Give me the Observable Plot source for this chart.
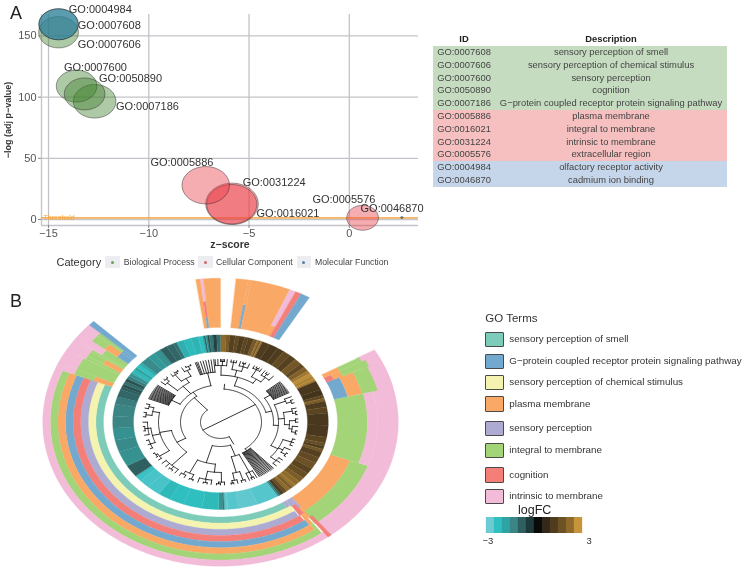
<!DOCTYPE html>
<html><head><meta charset="utf-8">
<script src="https://cdn.jsdelivr.net/npm/d3@7"></script>
<script src="https://cdn.jsdelivr.net/npm/@observablehq/plot@0.6"></script>
<style>
html,body{margin:0;background:#fff}
#root{position:relative;width:743px;height:571px;overflow:hidden;font-family:"Liberation Sans",Arial,sans-serif;color:#333;filter:blur(.45px)}
#root>*{position:absolute}
.t{white-space:nowrap;line-height:1}
table{border-collapse:collapse;table-layout:fixed;font-size:9.4px;color:#444}
td,th{padding:0;height:12.8px;line-height:12.8px;text-align:center;white-space:nowrap}
</style></head><body><div id="root"></div>
<script>
// ---------- Panel A data
const goIds   = ["GO:0007606","GO:0007608","GO:0004984","GO:0007600","GO:0050890","GO:0007186","GO:0005886","GO:0016021","GO:0031224","GO:0005576","GO:0046870"];
const zScores = [-14.5,-14.5,-14.5,-13.6,-13.2,-12.7,-7.16,-5.85,-5.86,0.66,2.62];
const logPs   = [153,159.5,159.5,109,102.6,96.6,28,12.8,12.5,1.4,1.6];
const counts  = [246,240,240,256,256,282,350,428,388,156,1];
const cats    = ["BP","BP","MF","BP","BP","BP","CC","CC","CC","CC","MF"];
const labelZ  = [-13.54,-13.54,-13.99,-14.23,-12.48,-11.64,-9.92,-4.63,-5.32,-1.84,0.56];
const labelP  = [142.7,158.9,171.6,124.4,115,92.3,46.3,4.7,30.2,16.4,8.8];
const thresholdP = 1.3;
const catNames = ["Biological Process","Cellular Component","Molecular Function"];
const catColors = {BP:"#3f7f2a",CC:"#e93b45",MF:"#2a7fb4"};
const catOpacity = {BP:.42,CC:.42,MF:.62};
// ---------- Table data
const tableIds = ["GO:0007608","GO:0007606","GO:0007600","GO:0050890","GO:0007186","GO:0005886","GO:0016021","GO:0031224","GO:0005576","GO:0004984","GO:0046870"];
const tableDesc = ["sensory perception of smell","sensory perception of chemical stimulus","sensory perception","cognition","G\u2212protein coupled receptor protein signaling pathway","plasma membrane","integral to membrane","intrinsic to membrane","extracellular region","olfactory receptor activity","cadmium ion binding"];
const tableCat = ["BP","BP","BP","BP","BP","CC","CC","CC","CC","MF","MF"];
const tableBg = {BP:"#c6dcc1",CC:"#f6c0c0",MF:"#c6d6ea"};
// ---------- Panel B data
const terms = ["sensory perception of smell","G\u2212protein coupled receptor protein signaling pathway","sensory perception of chemical stimulus","plasma membrane","sensory perception","integral to membrane","cognition","intrinsic to membrane"];
const termColors = ["#7dccb9","#74a9cf","#f4f4b0","#f9a965","#aeabd3","#a3d477","#f47e78","#f2bbd8"];
const [TE,BL,YE,OR,PU,GR,RE,PI] = [0,1,2,3,4,5,6,7];
const sectors = [
 [148,292,117,124.6,TE],[147,292,124.6,132.2,YE],[146,292,132.2,139.8,PU],[145.5,292,139.8,147.4,RE],
 [145,292,147.4,155,BL],[144.5,292,155,162.6,OR],[143.5,292,162.6,170.2,GR],[142,312.5,170.2,177.8,PI],
 [110,142.5,117,138,OR],[110,143,138,157,GR],[60,142.5,157,177.8,PI],
 [142.5,143.5,117,132,PU],[142.5,143.5,132,147,OR],[143.5,146,117,126,PU],[143.5,145.5,126,140,RE],[143.5,145,140,155,OR],[143.5,144.5,155,162.6,GR],
 [146,148,117,124.6,PU],[146,147,124.6,132,YE],[141.5,142.8,147,177.8,RE],
 [76,110,117,147,GR],[76,110,147,157,PI],
 [65,76,117,131,BL],[65,76,131,146,OR],[65,76,146,162,GR],[65,76,162,177.8,PI],
 [62,65,117,125,RE],[62,65,125,135,OR],[62,65,135,164,GR],[62,65,164,177.8,PI],
 [60,62,117,135,OR],[60,62,135,160,GR],[60,62,160,177.8,PI],
 [292,294.5,117,137,OR],[292,294.5,137,158,GR],[292,294.5,158,177.8,PI],
 [294.5,300,117,158,GR],[294.5,300,158,177.8,PI],
 [300,301.5,117,156,GR],[301.5,304,117,138,OR],[301.5,304,138,156,GR],[304,305,117,156,GR],[300,305,156,177.8,PI],
 [305,308,117,145,GR],[305,308,145,177.8,PI],
 [308,311,117,131,BL],[308,311,131,147,OR],[308,311,147,163,GR],[308,311,163,177.8,PI],
 [311,312.5,117,131,BL],[311,312.5,131,163,GR],[311,312.5,163,177.8,PI],
 [312.5,314.5,117,177.8,BL],
 [-8,-6.5,117,177.8,OR],[-6.5,-5.5,117,130,BL],[-6.5,-5.5,130,150,RE],[-6.5,-5.5,150,177.8,PI],[-5.5,0,117,177.8,OR],
 [5,9,117,177.8,OR],[9,10,117,147,BL],[9,10,147,177.8,OR],[10,23,117,177.8,OR],
 [23,25,117,130,OR],[23,25,130,177.8,PI],[25,27,117,177.8,RE],[27,30,117,177.8,BL]
];
const ringAngles = [0,3,5,8,10,13,15,18,20,21,22,23,27,32,36,40,44,48,51,54,56,58,60,62,68,72,74,76,80,84,92,100,104,106,108,110,114,118,122,126,130,133,136,138,140,142,144,146,147,148,160,170,176,178,179,181,190,200,208,215,222,228,232,240,250,258,266,274,282,287,292,294,296,298,300,302,304,305,307,309,311,313,318,322,326,330,334,336,340,344,348,351,352,353,354,356,358,360];
const ringLogFC  = [2,1.7,1.1,1.3,1,1.2,1.1,1.6,2.2,1.5,2.3,1,.9,1,1.3,1.1,1.6,1.3,1.8,2.3,2.8,2.5,2.6,.9,.8,1.2,1.8,1,1.2,.9,.9,1.2,1.4,1,1.6,1.1,1.3,1.5,1.2,1.4,1.7,2,2.2,1.7,2,1.4,1,-1,-1.5,-2.8,-2.9,-2.8,-2.9,-1.3,-1.7,-2.4,-2.5,-2.5,-2.4,-2.7,-2.7,-2.6,-1,-1.7,-1.6,-1.7,-1.5,-1.5,-1.4,-1.1,-1,-.8,-1.2,-.8,-1.4,-1.7,-2,-2.4,-2,-2.5,-2.2,-1.6,-1.8,-1.7,-1,-1.1,-1.2,-2.2,-2.4,-2.3,-2.5,-1,-2,-.7,-1.3,-.6,-1.2];
const logFCStops  = [-3,-2.5,-2,-1.5,-1,-.5,0,.5,1,1.5,2,3];
const logFCColors = ["#6ecad3","#2fbfc0","#2fa4a4","#3b8585","#2f5f60","#1e3a3a","#0a0a0a","#33281a","#4f3c1e","#6d5226","#8f6b2b","#c8943a"];
const legendSteps = [-3,-2.5,-2,-1.5,-1,-.5,0,.5,1,1.5,2,3];
// dendrogram: [radius, children, optional angle]; numbers are leaf angles
const dendroA = [41,[
  [47,[
    [58,[[70,[-4,-2,[75,[0,1,2,3]],5]],[66,[[75,[8,10,12]],[72,[15,[76,[17,19]],22]]]],[64,[[74,[26,[76,[28,30]],32]],[71,[35,[75,[37,39]],43]]]]]],
    [53,[[60,[50,51,52,53,54,55,56,57,58,59,60,61,62]],[58,[[70,[66,[75,[69,72]]]],[64,[[73,[77,[76,[80,83]]]],[69,[[75,[87,90]],[72,[94,[76,[98,101]]]]]]]],[66,[[75,[106,109,112]],[71,[116,[76,[120,123]]]],[73,[127,130,134]]]]]]]]
  ],5],
  [44,[137,138,139,140,141,142,143,144,145,146,147,148,149,150],143]
],58];
const dendroB = [20,[
  [30,[
    [44,[[68,[152,[75,[154,156]],158]],[64,[[75,[161,164]],[73,[167,[76,[170,172]]]]]]]],
    [52,[[62,[[74,[177,[76,[180,183]]]],[72,[187,[76,[190,193]],197]]]],[70,[[76,[201,204]],[74,[208,212]]]]]]
  ],154],
  [40,[
    [50,[[72,[216,[76,[219,222]],225,229]],[62,[[74,[233,[76,[236,240]]]],[70,[[75,[245,249,253]],[73,[258,[76,[262,266]],270]]]],[69,[[75,[275,279]],[74,[283,287]]]]]]]],
    [46,[[56,[292,293,294,295,296,297,298,299,300,301,302,303,304,305,306]],[58,[[72,[310,[76,[313,316]]]],[64,[[74,[320,[76,[323,326]]]],[72,[330,[76,[333,337]]]]]]]],[62,[341,342,343,345,347,349,351,353,355]]]]
  ],319]
],241];
const dendroLeafR = 77.5;
const ringInner = 87, ringOuter = 107.8;

// ---------- helpers
const root = document.getElementById("root");
const place = (el,left,top)=>{el.style.left=left+"px";el.style.top=top+"px";root.append(el);return el};
function text(s,left,top,size,extra={}){const d=document.createElement("div");d.className="t";d.textContent=s;d.style.fontSize=size+"px";Object.assign(d.style,extra);return place(d,left,top)}
const font = '"Liberation Sans",Arial,sans-serif';
const polar=(a,r)=>({x:r*Math.sin(a*Math.PI/180),y:r*Math.cos(a*Math.PI/180)});
function arcPts(a0,a1,r){const n=Math.max(1,Math.ceil(Math.abs(a1-a0)));return d3.range(n+1).map(i=>polar(a0+(a1-a0)*i/n,r))}
function band(a0,a1,r0,r1,props,id){return [...arcPts(a0,a1,r1),...arcPts(a1,a0,r0)].map(p=>({...p,...props,id}))}

// ---------- Panel A
const xDomain=[-15.35,3.45], yDomain=[-4.9,167.5];
const bubbles = goIds.map((id,i)=>({id,z:zScores[i],p:logPs[i],n:counts[i],cat:cats[i],lz:labelZ[i],lp:labelP[i]}));
const bubbleAspect=1.27;
const ellipse={draw(c,size){const r=Math.sqrt(size/Math.PI),a=r*bubbleAspect,k=.5523;c.moveTo(a,0);c.bezierCurveTo(a,k*r,k*a,r,0,r);c.bezierCurveTo(-k*a,r,-a,k*r,-a,0);c.bezierCurveTo(-a,-k*r,-k*a,-r,0,-r);c.bezierCurveTo(k*a,-r,a,-k*r,a,0);c.closePath()}};
const gridC="#c3c4c9";
const plotA=Plot.plot({width:430,height:252,marginLeft:41,marginRight:12,marginTop:14,marginBottom:27,
  style:{background:"transparent",fontFamily:font,overflow:"visible"},
  x:{domain:xDomain,label:null},y:{domain:yDomain,label:null},
  r:{type:"sqrt",domain:[0,428],range:[0,20.7]},
  marks:[
    Plot.gridX([-15,-10,-5,0],{stroke:gridC,strokeOpacity:1,strokeWidth:1.3}),
    Plot.gridY([0,50,100,150],{stroke:gridC,strokeOpacity:1,strokeWidth:1.3}),
    Plot.ruleX([xDomain[0]],{stroke:gridC,strokeWidth:1.3}),
    Plot.ruleY([yDomain[0]],{stroke:gridC,strokeWidth:1.6}),
    Plot.ruleY([thresholdP],{stroke:"#f5a33a",strokeWidth:1.6,strokeOpacity:.8}),
    Plot.dot(bubbles,{x:"z",y:"p",r:"n",symbol:ellipse,fill:{value:d=>catColors[d.cat],scale:null},fillOpacity:d=>catOpacity[d.cat],stroke:"#222",strokeOpacity:.55,strokeWidth:.8}),
    Plot.text(["Threshold"],{x:xDomain[0],y:thresholdP,text:d=>d,textAnchor:"start",dx:2,fontSize:7,fill:"#f5a33a"}),
    Plot.text(bubbles,{x:"lz",y:"lp",text:"id",textAnchor:"start",fontSize:11,fill:"#333"}),
    Plot.axisX({ticks:[-15,-10,-5,0],tickFormat:d=>String(d).replace("-","\u2212"),tickSize:3,tickPadding:1,stroke:"#888",fill:"#555",fontSize:11,label:null}),
    Plot.axisY({ticks:[0,50,100,150],tickSize:3,tickPadding:2,stroke:"#888",fill:"#555",fontSize:11,label:null}),
    Plot.text(["z\u2212score"],{frameAnchor:"bottom",dy:22,text:d=>d,fontWeight:"bold",fontSize:10.5,fill:"#333"}),
    Plot.text(["\u2212log (adj p\u2212value)"],{frameAnchor:"left",dx:-33,rotate:-90,textAnchor:"middle",text:d=>d,fontWeight:"bold",fontSize:9,fill:"#333"})
  ]});
place(plotA,0,0);

text("A",10,4,18,{color:"#222"});
text("B",10,292,18,{color:"#222"});

// Category legend
text("Category",56.5,256.5,11,{color:"#333"});
const keyX=[105.3,198.3,296.7], labX=[123.7,216,315], keyCol=["#6d9e5a","#d06a6a","#55839c"];
catNames.forEach((c,i)=>{
  const b=document.createElement("div");Object.assign(b.style,{width:"14.5px",height:"12px",background:"#ecedf0"});place(b,keyX[i],256);
  const d=document.createElement("div");Object.assign(d.style,{width:"3px",height:"3px",borderRadius:"50%",background:keyCol[i],left:"5.7px",top:"4.5px",position:"absolute"});b.append(d);
  text(c,labX[i],257.8,8.7,{color:"#444",fontWeight:"normal"});
});

// ---------- Table
const tb=document.createElement("table");tb.style.width="294px";
tb.innerHTML=`<colgroup><col style="width:62px"><col style="width:232px"></colgroup><thead><tr><th style="color:#222;font-weight:bold">ID</th><th style="color:#222;font-weight:bold">Description</th></tr></thead><tbody>`+
 tableIds.map((id,i)=>`<tr style="background:${tableBg[tableCat[i]]}"><td>${id}</td><td>${tableDesc[i]}</td></tr>`).join("")+`</tbody>`;
place(tb,433,33.2);

// ---------- Panel B
const termRows=sectors.flatMap((s,i)=>band(s[0],s[1],s[2],s[3],{col:termColors[s[4]]},"t"+i));
const ringRows=ringLogFC.flatMap((v,i)=>band(ringAngles[i],ringAngles[i+1],ringInner,ringOuter,{v},"r"+i));
const branches=[];let bid=0;
function walk(node,parentR){
  if(typeof node==="number"){const a=node;branches.push([polar(a,parentR),polar(a,dendroLeafR)]);return a}
  const [r,kids,at]=node;
  const as=kids.map(k=>walk(k,r));
  const a0=as[0],a1=as[as.length-1];
  const a=at??(a0+a1)/2;
  branches.push(arcPts(a0,a1,r));
  if(parentR!=null)branches.push([polar(a,parentR),polar(a,r)]);
  return a;
}
const aA=walk(dendroA,null), aB=walk(dendroB,null);
branches.push([polar(aA,dendroA[0]),polar(aB,dendroB[0])]);
const treeRows=branches.flatMap(b=>{bid++;return b.map(p=>({...p,id:bid}))});
const colorOpt={type:"linear",domain:logFCStops,range:logFCColors,interpolate:"rgb"};
const plotB=Plot.plot({width:450,height:296,margin:0,
  style:{background:"transparent",overflow:"visible"},
  x:{domain:[-220,230],axis:null},y:{domain:[-184.3,181.1],axis:null},color:colorOpt,
  marks:[
    Plot.line(termRows,{x:"x",y:"y",z:"id",curve:"linear-closed",fill:{value:"col",scale:null},stroke:{value:"col",scale:null},strokeWidth:.3}),
    Plot.line(ringRows,{x:"x",y:"y",z:"id",curve:"linear-closed",fill:"v",stroke:"v",strokeWidth:.3}),
    Plot.line(treeRows,{x:"x",y:"y",z:"id",curve:"linear",stroke:"#111",strokeWidth:.85})
  ]});
place(plotB,0,275);

// ---------- GO Terms legend
text("GO Terms",485.3,313,11.5,{color:"#333"});
const legendY=[339,361,382,403.7,428.3,450.3,474.7,496.3];
terms.forEach((t,i)=>{
  const b=document.createElement("div");Object.assign(b.style,{width:"16.6px",height:"13.6px",background:termColors[i],border:"1px solid #4a4a4a",borderRadius:"1px"});place(b,485.3,legendY[i]-7.5);
  text(t,509.3,legendY[i]-5.2,9.8,{color:"#333"});
});
text("logFC",518,504,12.5,{color:"#222"});
const bar=Plot.plot({width:98,height:16,margin:0,style:{background:"transparent"},
  x:{type:"band",domain:legendSteps,padding:0,axis:null},y:{axis:null},color:colorOpt,
  marks:[Plot.cell(legendSteps,{x:d=>d,fill:d=>d,stroke:d=>d,strokeWidth:.3})]});
place(bar,485.3,517.3);
text("\u22123",482.5,536,9.5,{color:"#333"});
text("3",586.5,536,9.5,{color:"#333"});
</script></body></html>
